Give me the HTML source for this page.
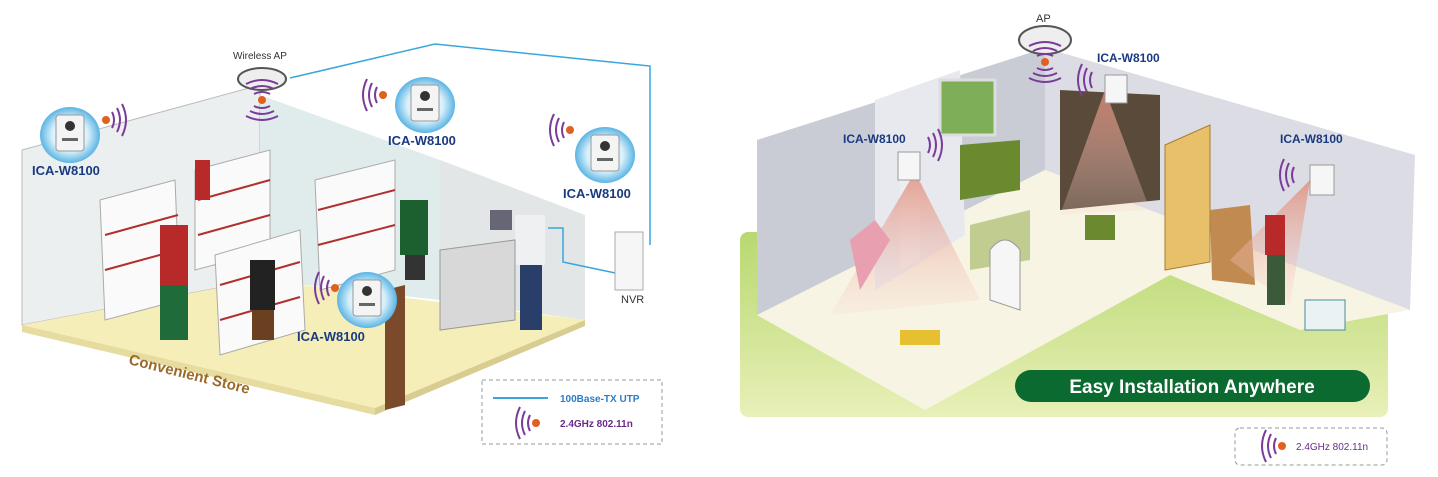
<!DOCTYPE html>
<html><head><meta charset="utf-8"><style>
html,body{margin:0;padding:0;background:#fff;width:1438px;height:477px;overflow:hidden}
svg{display:block}
text{font-family:"Liberation Sans",sans-serif}
</style></head><body>
<svg width="1438" height="477" viewBox="0 0 1438 477" xmlns="http://www.w3.org/2000/svg">
<defs>
<linearGradient id="grn" x1="0" y1="0" x2="0" y2="1"><stop offset="0" stop-color="#b8d870"/><stop offset="1" stop-color="#e8f0b8"/></linearGradient>
<radialGradient id="cam" cx="0.5" cy="0.5" r="0.5"><stop offset="0" stop-color="#fff"/><stop offset="0.6" stop-color="#d8f0fb"/><stop offset="1" stop-color="#5ab4e4"/></radialGradient>
<linearGradient id="beam" x1="0" y1="0" x2="0" y2="1"><stop offset="0" stop-color="#e08a78" stop-opacity="0.8"/><stop offset="1" stop-color="#f5d5cc" stop-opacity="0.2"/></linearGradient>
<g id="wave" fill="none" stroke="#7a3b9a" stroke-width="2"><path d="M-6,-8 Q-10,0 -6,8"/><path d="M-11,-12 Q-17,0 -11,12"/><path d="M-16,-16 Q-24,0 -16,16"/></g>
<g id="camb"><ellipse cx="0" cy="0" rx="30" ry="28" fill="url(#cam)"/><rect x="-14" y="-20" width="28" height="36" rx="3" fill="#f4f4f4" stroke="#999"/><circle cx="0" cy="-9" r="5" fill="#333"/><rect x="-8" y="3" width="16" height="3" fill="#666"/></g>
</defs>
<!-- LEFT SCENE -->
<polygon points="22,150 260,85 260,280 22,325" fill="#ecefef" stroke="#bbb"/>
<polygon points="260,95 440,160 440,300 260,280" fill="#dfeceb"/>
<polygon points="440,160 585,215 585,320 440,300" fill="#e2e6e6"/>
<polygon points="22,325 260,280 585,320 375,408" fill="#f6eeb8"/>
<polygon points="22,325 375,408 375,415 22,332" fill="#e6dca0"/>
<polygon points="375,408 585,320 585,326 375,415" fill="#d8cc90"/>
<!-- shelves -->
<g fill="#fafafa" stroke="#aaa">
<polygon points="100,200 175,180 180,300 105,320"/>
<polygon points="195,170 270,150 270,250 195,270"/>
<polygon points="215,255 300,230 305,330 220,355"/>
<polygon points="315,180 395,160 395,270 320,290"/>
</g>
<g stroke="#b03030" stroke-width="2">
<line x1="105" y1="235" x2="178" y2="215"/><line x1="105" y1="270" x2="178" y2="250"/>
<line x1="198" y1="200" x2="270" y2="180"/><line x1="198" y1="235" x2="270" y2="215"/>
<line x1="220" y1="285" x2="300" y2="262"/><line x1="220" y1="320" x2="300" y2="297"/>
<line x1="318" y1="210" x2="395" y2="190"/><line x1="318" y1="245" x2="395" y2="225"/>
</g>
<!-- people -->
<rect x="160" y="225" width="28" height="60" fill="#b82a2a"/><rect x="160" y="285" width="28" height="55" fill="#1f6b3a"/>
<rect x="195" y="160" width="15" height="40" fill="#b82a2a"/>
<rect x="250" y="260" width="25" height="50" fill="#222"/><rect x="252" y="310" width="22" height="30" fill="#6b4020"/>
<rect x="400" y="200" width="28" height="55" fill="#1d6030"/><rect x="405" y="255" width="20" height="25" fill="#333"/>
<rect x="515" y="215" width="30" height="50" fill="#eef0f2"/><rect x="520" y="265" width="22" height="65" fill="#2a3e6a"/>
<polygon points="440,250 515,240 515,320 440,330" fill="#d8d8d8" stroke="#999"/>
<rect x="490" y="210" width="22" height="20" fill="#667"/>
<polygon points="385,290 405,285 405,405 385,410" fill="#7a4a2a"/>
<!-- cables -->
<polyline points="290,78 435,44 650,66 650,245" fill="none" stroke="#3aa6dc" stroke-width="1.5"/>
<polyline points="548,228 563,228 563,262 620,274" fill="none" stroke="#3aa6dc" stroke-width="1.5"/>
<!-- NVR -->
<rect x="615" y="232" width="28" height="58" fill="#f6f6f6" stroke="#aaa"/>
<text x="621" y="303" font-size="11" fill="#333">NVR</text>
<!-- AP -->
<text x="233" y="59" font-size="10" fill="#333">Wireless AP</text>
<ellipse cx="262" cy="79" rx="24" ry="11" fill="#eee" stroke="#555" stroke-width="2"/>
<g transform="translate(262,100) rotate(-90)"><use href="#wave"/></g>
<g transform="translate(262,100) rotate(90)"><use href="#wave"/></g>
<circle cx="262" cy="100" r="4" fill="#e06020"/>
<!-- cameras -->
<use href="#camb" x="70" y="135"/><text x="32" y="175" font-size="13" font-weight="bold" fill="#1a3a80">ICA-W8100</text>
<g transform="translate(106,120) scale(-1,1)"><use href="#wave"/></g><circle cx="106" cy="120" r="4" fill="#e06020"/>
<use href="#camb" x="425" y="105"/><text x="388" y="145" font-size="13" font-weight="bold" fill="#1a3a80">ICA-W8100</text>
<use href="#wave" x="383" y="95"/><circle cx="383" cy="95" r="4" fill="#e06020"/>
<use href="#camb" x="605" y="155"/><text x="563" y="198" font-size="13" font-weight="bold" fill="#1a3a80">ICA-W8100</text>
<use href="#wave" x="570" y="130"/><circle cx="570" cy="130" r="4" fill="#e06020"/>
<use href="#camb" x="367" y="300"/><text x="297" y="341" font-size="13" font-weight="bold" fill="#1a3a80">ICA-W8100</text>
<use href="#wave" x="335" y="288"/><circle cx="335" cy="288" r="4" fill="#e06020"/>
<text x="0" y="0" font-size="15" font-weight="bold" fill="#9a6a2a" transform="translate(128,364) rotate(14)">Convenient Store</text>
<!-- legend -->
<rect x="482" y="380" width="180" height="64" fill="none" stroke="#999" stroke-dasharray="4,3"/>
<line x1="493" y1="398" x2="548" y2="398" stroke="#3aa6dc" stroke-width="2"/>
<text x="560" y="402" font-size="10" font-weight="bold" fill="#2a7ec8">100Base-TX UTP</text>
<use href="#wave" x="536" y="423"/><circle cx="536" cy="423" r="4" fill="#e06020"/>
<text x="560" y="427" font-size="10" font-weight="bold" fill="#6a2a8a">2.4GHz 802.11n</text>
<!-- RIGHT SCENE -->
<rect x="740" y="232" width="648" height="185" rx="8" fill="url(#grn)"/>
<polygon points="757,140 1045,48 1045,170 757,315" fill="#c9ccd4"/>
<polygon points="1045,48 1415,155 1410,310 1045,170" fill="#dcdde4"/>
<polygon points="757,315 1045,170 1410,310 1300,330 1170,275 925,410" fill="#f8f4e4"/>
<polygon points="875,100 960,70 965,235 875,290" fill="#e8e9ee"/>
<rect x="940" y="80" width="55" height="55" fill="#7fae58" stroke="#ddd" stroke-width="3"/>
<polygon points="1060,90 1160,95 1160,200 1060,210" fill="#5a4a3a"/>
<polygon points="1165,145 1210,125 1210,262 1165,270" fill="#e8c06a" stroke="#a87a30"/>
<polygon points="1210,210 1250,205 1255,285 1212,280" fill="#c08a50"/>
<polygon points="960,145 1020,140 1020,190 960,200" fill="#6b8a30"/>
<polygon points="970,225 1030,210 1030,260 970,270" fill="#c0cc90"/>
<path d="M990,300 v-50 q15,-20 30,0 v60 z" fill="#f6f6f6" stroke="#999"/>
<polygon points="900,180 920,170 920,260 900,270" fill="#eeeef2"/>
<polygon points="915,172 830,315 980,300" fill="url(#beam)"/>
<polygon points="1105,90 1060,215 1150,210" fill="url(#beam)"/>
<polygon points="1310,180 1230,260 1290,305" fill="url(#beam)"/>
<path d="M850,240 l25,-20 l15,20 l-30,50z" fill="#e8a0b0"/>
<rect x="1265" y="215" width="20" height="40" fill="#b82a2a"/><rect x="1267" y="255" width="18" height="50" fill="#3a5a3a"/>
<rect x="1085" y="215" width="30" height="25" fill="#6b8a30"/>
<rect x="1305" y="300" width="40" height="30" fill="#eaf2f4" stroke="#4a8aa0"/>
<rect x="900" y="330" width="40" height="15" fill="#e6c030"/>
<ellipse cx="1045" cy="40" rx="26" ry="14" fill="#eee" stroke="#555" stroke-width="2"/>
<text x="1036" y="22" font-size="11" fill="#333">AP</text>
<g transform="translate(1045,62) rotate(-90)"><use href="#wave"/></g><g transform="translate(1045,62) rotate(90)"><use href="#wave"/></g><circle cx="1045" cy="62" r="4" fill="#e06020"/>
<text x="843" y="143" font-size="12" font-weight="bold" fill="#1a3a80">ICA-W8100</text>
<text x="1097" y="62" font-size="12" font-weight="bold" fill="#1a3a80">ICA-W8100</text>
<text x="1280" y="143" font-size="12" font-weight="bold" fill="#1a3a80">ICA-W8100</text>
<rect x="898" y="152" width="22" height="28" fill="#f6f6f6" stroke="#999"/>
<rect x="1105" y="75" width="22" height="28" fill="#f6f6f6" stroke="#999"/>
<rect x="1310" y="165" width="24" height="30" fill="#f6f6f6" stroke="#999"/>
<g transform="translate(922,145) scale(-1,1)"><use href="#wave"/></g>
<use href="#wave" x="1098" y="80"/><use href="#wave" x="1300" y="175"/>
<rect x="1015" y="370" width="355" height="32" rx="16" fill="#0a6a30"/>
<text x="1192" y="393" font-size="19" font-weight="bold" fill="#fff" text-anchor="middle">Easy Installation Anywhere</text>
<rect x="1235" y="428" width="152" height="37" rx="5" fill="none" stroke="#999" stroke-dasharray="4,3"/>
<use href="#wave" x="1282" y="446"/><circle cx="1282" cy="446" r="4" fill="#e06020"/>
<text x="1296" y="450" font-size="10" fill="#6a2a8a">2.4GHz 802.11n</text>
</svg>
</body></html>
